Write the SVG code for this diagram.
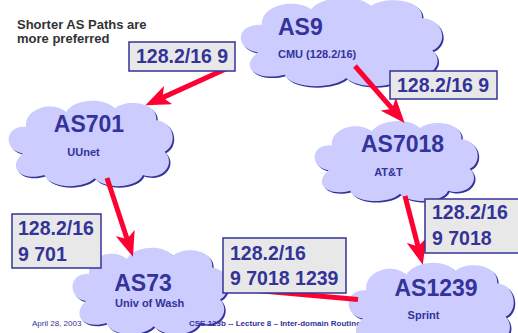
<svg xmlns="http://www.w3.org/2000/svg" xmlns:xlink="http://www.w3.org/1999/xlink" width="518" height="333" viewBox="0 0 518 333">
<style>
  .cloud { fill: #ccccff; }
  .shadow { fill: #333399; }
  .big { font-family: "Liberation Sans", Arial, sans-serif; font-weight: bold; font-size: 23px; fill: #333399; }
  .small { font-family: "Liberation Sans", Arial, sans-serif; font-weight: bold; font-size: 11px; fill: #333399; }
  .box { fill: #e8e8e8; stroke: #333399; stroke-width: 1.5; }
  .boxt { font-family: "Liberation Sans", Arial, sans-serif; font-weight: bold; font-size: 19.5px; fill: #333399; }
  .arrow { stroke: #ff0033; stroke-width: 5; fill: none; }
  .note { font-family: "Liberation Sans", Arial, sans-serif; font-weight: bold; font-size: 13px; fill: #333333; }
  .foot { font-family: "Liberation Sans", Arial, sans-serif; font-size: 8px; fill: #333399; }
</style>
<defs>
  <path id="cl" d="M -80 12 C -104 8 -102 -22 -76 -20 C -78 -42 -45 -52 -28 -38 C -18 -54 18 -56 30 -42 C 44 -54 82 -50 80 -28 C 102 -26 106 2 90 10 C 104 24 88 46 64 38 C 58 54 18 56 6 42 C -8 56 -48 54 -54 38 C -80 46 -100 30 -80 12 Z"/>
  <marker id="ah" viewBox="0 0 10 8" refX="2.5" refY="4" markerWidth="5" markerHeight="4" orient="auto" markerUnits="strokeWidth">
    <path d="M0,0 L10,4 L0,8 L2.5,4 Z" fill="#ff0033"/>
  </marker>
</defs>

<g id="note">
  <text class="note" x="17" y="29">Shorter AS Paths are</text>
  <text class="note" x="17" y="43">more preferred</text>
</g>

<g id="AS9">
  <use xlink:href="#cl" class="shadow" transform="translate(341.5,43.5) scale(1.025,0.86)"/>
  <use xlink:href="#cl" class="cloud" transform="translate(340,42) scale(1.025,0.86)"/>
  <text class="big" x="278" y="35">AS9</text>
  <text class="small" x="278" y="58">CMU (128.2/16)</text>
</g>

<g id="AS701">
  <use xlink:href="#cl" class="shadow" transform="translate(91,145) scale(0.835,0.83)"/>
  <use xlink:href="#cl" class="cloud" transform="translate(89.5,143.5) scale(0.835,0.83)"/>
  <text class="big" x="89" y="132" text-anchor="middle">AS701</text>
  <text class="small" x="83.5" y="156" text-anchor="middle">UUnet</text>
</g>

<g id="AS7018">
  <use xlink:href="#cl" class="shadow" transform="translate(396.5,162.5) scale(0.83,0.78)"/>
  <use xlink:href="#cl" class="cloud" transform="translate(395,161) scale(0.83,0.78)"/>
  <text class="big" x="402.5" y="152" text-anchor="middle">AS7018</text>
  <text class="small" x="388.5" y="176" text-anchor="middle">AT&amp;T</text>
</g>

<g id="AS73">
  <use xlink:href="#cl" class="shadow" transform="translate(150.5,292.5) scale(0.79,0.84)"/>
  <use xlink:href="#cl" class="cloud" transform="translate(149,291) scale(0.79,0.84)"/>
  <text class="big" x="143" y="291" text-anchor="middle">AS73</text>
  <text class="small" x="115" y="307" font-size="11.5">Univ of Wash</text>
</g>

<g id="footer">
  <text class="foot" x="32" y="326">April 28, 2003</text>
  <text class="foot" x="189" y="326" font-weight="bold">CSE 123b -- Lecture 8 – Inter-domain Routing</text>
</g>

<g id="AS1239">
  <use xlink:href="#cl" class="shadow" transform="translate(431.5,309.5) scale(0.84,0.88)"/>
  <use xlink:href="#cl" class="cloud" transform="translate(430,308) scale(0.84,0.88)"/>
  <text class="big" x="436" y="296" text-anchor="middle">AS1239</text>
  <text class="small" x="423.5" y="319" text-anchor="middle">Sprint</text>
</g>

<g id="connectors">
  <line class="arrow" x1="230" y1="67" x2="162.5" y2="97.6" marker-end="url(#ah)"/>
  <line class="arrow" x1="355" y1="66" x2="392.3" y2="108.8" marker-end="url(#ah)"/>
  <line class="arrow" x1="107" y1="178" x2="127.1" y2="239" marker-end="url(#ah)"/>
  <line class="arrow" x1="405" y1="196" x2="418.1" y2="246.6" marker-end="url(#ah)"/>
  <line class="arrow" x1="358" y1="299.5" x2="245" y2="289.5" stroke-width="6"/>
</g>

<g id="labels">
  <g id="label1">
    <rect class="box" x="129" y="42" width="106" height="29"/>
    <text class="boxt" x="136" y="63">128.2/16 9</text>
  </g>
  <g id="label2">
    <rect class="box" x="390" y="71" width="107" height="28"/>
    <text class="boxt" x="397" y="92">128.2/16 9</text>
  </g>
  <g id="label3">
    <rect class="box" x="12" y="214" width="89" height="54"/>
    <text class="boxt" x="18" y="235">128.2/16</text>
    <text class="boxt" x="18" y="261">9 701</text>
  </g>
  <g id="label4">
    <rect class="box" x="223" y="238" width="123" height="55"/>
    <text class="boxt" x="230" y="260">128.2/16</text>
    <text class="boxt" x="230" y="285">9 7018 1239</text>
  </g>
  <g id="label5">
    <rect class="box" x="425" y="199" width="100" height="54"/>
    <text class="boxt" x="432" y="219">128.2/16</text>
    <text class="boxt" x="432" y="245">9 7018</text>
  </g>
</g>
</svg>
